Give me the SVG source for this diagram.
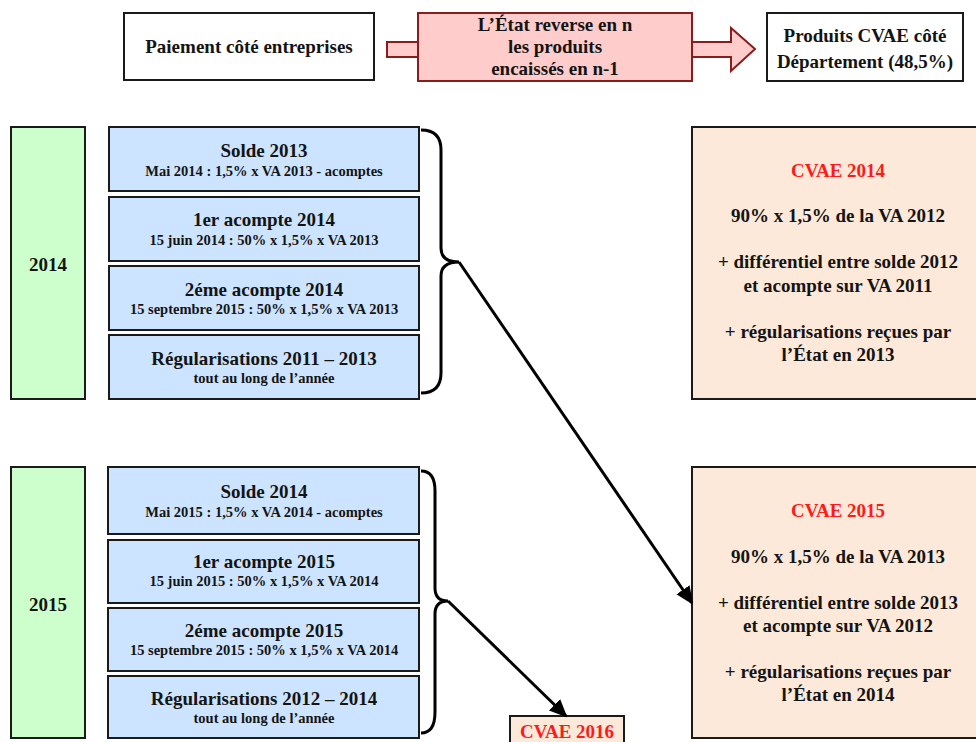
<svg xmlns="http://www.w3.org/2000/svg" width="976" height="742" viewBox="0 0 976 742">
<defs>
<style>
text{font-family:"Liberation Serif","Times New Roman",serif;font-weight:bold;fill:#141414;text-anchor:middle}
.t{font-size:19px}
.s{font-size:14.5px}
.h{font-size:19px}
.red{fill:#ff1a1a}
.box{stroke:#1a1a1a;stroke-width:2}
.blue{fill:#cce4ff}
.green{fill:#ccffcc}
.peach{fill:#fde9d9}
.white{fill:#ffffff}
.brace{fill:none;stroke:#000;stroke-width:3}
.conn{stroke:#000;stroke-width:3;fill:none}
</style>
<marker id="ah2" markerWidth="18" markerHeight="18" refX="16" refY="9" orient="auto" markerUnits="userSpaceOnUse" viewBox="0 0 18 18">
<path d="M0,1 L18,9 L0,17 Z" fill="#000"/>
</marker>
</defs>
<rect width="976" height="742" fill="#fff"/>

<g id="top-entreprises">
<rect class="box white" x="124" y="13" width="250" height="67"/>
<text class="t" x="249" y="53">Paiement côté entreprises</text>
</g>

<g id="top-etat">
<path d="M387,42 H418 V13 H692 V42 H731 V28 L755,49 L731,71 V57 H692 V81 H418 V57 H387 Z" fill="#ffcccc" stroke="#8b1c1c" stroke-width="2"/>
<line x1="418" y1="42" x2="418" y2="57" stroke="#8b1c1c" stroke-width="2"/>
<line x1="692" y1="42" x2="692" y2="57" stroke="#8b1c1c" stroke-width="2"/>
<text class="t" x="555" y="31">L’État reverse en n</text>
<text class="t" x="555" y="53">les produits</text>
<text class="t" x="555" y="75">encaissés en n-1</text>
</g>

<g id="top-departement">
<rect class="box white" x="767" y="13" width="196" height="68"/>
<text class="t" x="865" y="42">Produits CVAE côté</text>
<text class="t" x="865" y="68">Département (48,5%)</text>
</g>

<g id="y2014">
<rect class="box green" x="11" y="127" width="74" height="272"/>
<text class="t" x="48" y="271">2014</text>
</g>

<g id="solde2013">
<rect class="box blue" x="109" y="127" width="310" height="64"/>
<text class="h" x="264" y="157">Solde 2013</text>
<text class="s" x="264" y="176">Mai 2014 : 1,5% x VA 2013 - acomptes</text>
</g>
<g id="acompte1-2014">
<rect class="box blue" x="109" y="197" width="310" height="64"/>
<text class="h" x="264" y="226">1er acompte 2014</text>
<text class="s" x="264" y="245">15 juin 2014 : 50% x 1,5% x VA 2013</text>
</g>
<g id="acompte2-2014">
<rect class="box blue" x="109" y="266" width="310" height="64"/>
<text class="h" x="264" y="296">2éme acompte 2014</text>
<text class="s" x="264" y="314">15 septembre 2015 : 50% x 1,5% x VA 2013</text>
</g>
<g id="regul2014">
<rect class="box blue" x="109" y="335" width="310" height="64"/>
<text class="h" x="264" y="365">Régularisations 2011 – 2013</text>
<text class="s" x="264" y="383">tout au long de l’année</text>
</g>

<g id="cvae2014">
<rect class="box peach" x="692" y="127" width="300" height="272"/>
<text class="h red" x="838" y="177">CVAE 2014</text>
<text class="h" x="838" y="222">90% x 1,5% de la VA 2012</text>
<text class="h" x="838" y="268">+ différentiel entre solde 2012</text>
<text class="h" x="838" y="292">et acompte sur VA 2011</text>
<text class="h" x="838" y="338">+ régularisations reçues par</text>
<text class="h" x="838" y="361">l’État en 2013</text>
</g>

<g id="y2015">
<rect class="box green" x="11" y="467" width="74" height="271"/>
<text class="t" x="48" y="611">2015</text>
</g>

<g id="solde2014">
<rect class="box blue" x="108" y="467" width="311" height="67"/>
<text class="h" x="264" y="498">Solde 2014</text>
<text class="s" x="264" y="517">Mai 2015 : 1,5% x VA 2014 - acomptes</text>
</g>
<g id="acompte1-2015">
<rect class="box blue" x="108" y="540" width="311" height="63"/>
<text class="h" x="264" y="568">1er acompte 2015</text>
<text class="s" x="264" y="586">15 juin 2015 : 50% x 1,5% x VA 2014</text>
</g>
<g id="acompte2-2015">
<rect class="box blue" x="108" y="608" width="311" height="63"/>
<text class="h" x="264" y="637">2éme acompte 2015</text>
<text class="s" x="264" y="655">15 septembre 2015 : 50% x 1,5% x VA 2014</text>
</g>
<g id="regul2015">
<rect class="box blue" x="108" y="676" width="311" height="62"/>
<text class="h" x="264" y="705">Régularisations 2012 – 2014</text>
<text class="s" x="264" y="723">tout au long de l’année</text>
</g>

<g id="cvae2015">
<rect class="box peach" x="692" y="467" width="300" height="271"/>
<text class="h red" x="838" y="517">CVAE 2015</text>
<text class="h" x="838" y="563">90% x 1,5% de la VA 2013</text>
<text class="h" x="838" y="609">+ différentiel entre solde 2013</text>
<text class="h" x="838" y="632">et acompte sur VA 2012</text>
<text class="h" x="838" y="678">+ régularisations reçues par</text>
<text class="h" x="838" y="701">l’État en 2014</text>
</g>

<g id="cvae2016">
<rect class="box peach" x="510" y="716" width="114" height="40"/>
<text class="h red" x="567" y="738">CVAE 2016</text>
</g>

<g id="connectors">
<path class="brace" d="M421,130 Q441,130 441,150 V248 Q441,262 459,262 Q441,262 441,276 V373 Q441,393 421,393"/>
<path class="brace" d="M421,471 Q435,471 435,491 V588 Q435,601 448,601 Q435,601 435,614 V712 Q435,733 421,733"/>
<line class="conn" x1="459" y1="262" x2="692" y2="603" marker-end="url(#ah2)"/>
<line class="conn" x1="448" y1="601" x2="566" y2="716" marker-end="url(#ah2)"/>
</g>
</svg>
